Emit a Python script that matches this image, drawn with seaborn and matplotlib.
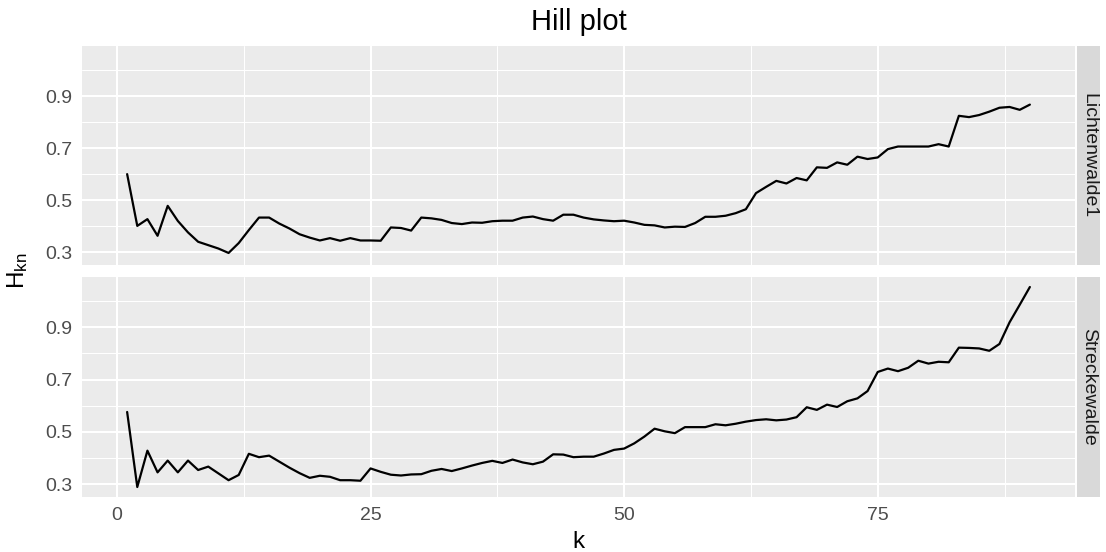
import numpy as np
import pandas as pd
import matplotlib
matplotlib.use("Agg")
import matplotlib.pyplot as plt
import seaborn as sns

# ---- data ----
k_values = list(range(1, 91))
lichtenwalde1 = [
    0.600, 0.401, 0.427, 0.363, 0.478, 0.420, 0.376, 0.340, 0.327, 0.314,
    0.297, 0.335, 0.385, 0.433, 0.433, 0.410, 0.391, 0.369, 0.356, 0.345,
    0.354, 0.344, 0.354, 0.345, 0.345, 0.344, 0.395, 0.393, 0.383, 0.433,
    0.430, 0.424, 0.412, 0.408, 0.414, 0.413, 0.419, 0.421, 0.421, 0.433,
    0.437, 0.427, 0.421, 0.444, 0.444, 0.433, 0.426, 0.422, 0.419, 0.421,
    0.414, 0.405, 0.403, 0.395, 0.398, 0.397, 0.412, 0.436, 0.436, 0.440,
    0.450, 0.465, 0.527, 0.551, 0.574, 0.564, 0.585, 0.576, 0.626, 0.624,
    0.645, 0.636, 0.667, 0.658, 0.664, 0.696, 0.706, 0.706, 0.706, 0.706,
    0.715, 0.706, 0.824, 0.819, 0.827, 0.840, 0.855, 0.858, 0.847, 0.867,
]
streckewalde = [
    0.576, 0.289, 0.428, 0.345, 0.390, 0.345, 0.390, 0.354, 0.367, 0.341,
    0.315, 0.335, 0.416, 0.403, 0.409, 0.386, 0.363, 0.342, 0.324, 0.332,
    0.328, 0.315, 0.315, 0.313, 0.360, 0.347, 0.336, 0.333, 0.337, 0.338,
    0.351, 0.358, 0.350, 0.360, 0.371, 0.381, 0.389, 0.381, 0.394, 0.383,
    0.376, 0.386, 0.414, 0.413, 0.403, 0.405, 0.405, 0.417, 0.431, 0.436,
    0.456, 0.482, 0.512, 0.502, 0.495, 0.518, 0.518, 0.518, 0.529, 0.525,
    0.531, 0.539, 0.545, 0.548, 0.544, 0.547, 0.556, 0.594, 0.584, 0.604,
    0.595, 0.617, 0.628, 0.656, 0.729, 0.742, 0.732, 0.745, 0.772, 0.761,
    0.768, 0.766, 0.822, 0.821, 0.819, 0.810, 0.836, 0.919, 0.986, 1.054,
]
sites = ["Lichtenwalde1", "Streckewalde"]
x_ticks = [0, 25, 50, 75]
y_ticks = [0.3, 0.5, 0.7, 0.9]

df = pd.DataFrame({
    "k": k_values * 2,
    "H": lichtenwalde1 + streckewalde,
    "site": [sites[0]] * len(k_values) + [sites[1]] * len(k_values),
})

# ---- style ----
sns.set_style("white")
plt.rcParams["font.family"] = ["Liberation Sans", "DejaVu Sans"]
plt.rcParams["mathtext.fontset"] = "custom"
plt.rcParams["mathtext.rm"] = "Liberation Sans"
plt.rcParams["mathtext.it"] = "Liberation Sans:italic"

W, H = 1106, 552
fig = plt.figure(figsize=(W / 100, H / 100), dpi=100)

def fx(px):
    return px / W

def fy(py):
    return 1 - py / H

panel_left, panel_right = 82, 1075
panels_y = [(46, 265), (277, 497)]
strip_l, strip_r = 1077, 1100

xmin, xmax = min(k_values), max(k_values)
xr = xmax - xmin
xlim = (xmin - 0.05 * xr, xmax + 0.05 * xr)
allv = lichtenwalde1 + streckewalde
ymin, ymax = min(allv), max(allv)
yr = ymax - ymin
ylim = (ymin - 0.05 * yr, ymax + 0.05 * yr)

major_lw = 1.44
minor_lw = 0.72
tick_fs = 14
for i, site in enumerate(sites):
    top, bot = panels_y[i]
    ax = fig.add_axes([fx(panel_left), fy(bot), fx(panel_right - panel_left), (bot - top) / H])
    ax.set_facecolor("#EBEBEB")
    for s in ax.spines.values():
        s.set_visible(False)
    # grid
    for v in [0.4, 0.6, 0.8, 1.0]:
        ax.axhline(v, color="white", lw=minor_lw, zorder=0.5)
    for v in [12.5, 37.5, 62.5, 87.5]:
        ax.axvline(v, color="white", lw=minor_lw, zorder=0.5)
    for v in y_ticks:
        ax.axhline(v, color="white", lw=major_lw, zorder=0.6)
    for v in x_ticks:
        ax.axvline(v, color="white", lw=major_lw, zorder=0.6)

    sns.lineplot(data=df[df["site"] == site], x="k", y="H", ax=ax,
                 color="black", linewidth=1.6, zorder=3)
    ax.set_xlim(*xlim)
    ax.set_ylim(*ylim)
    ax.set_yticks(y_ticks)
    ax.set_yticklabels([f"{v:.1f}" for v in y_ticks])
    ax.set_xticks(x_ticks)
    ax.set_xlabel("")
    ax.set_ylabel("")
    ax.tick_params(axis="both", length=4.0, width=major_lw, color="#333333",
                   labelcolor="#4D4D4D", labelsize=tick_fs, pad=3.2)
    if i == 0:
        ax.tick_params(axis="x", bottom=False, labelbottom=False)
    # strip
    sax = fig.add_axes([fx(strip_l), fy(bot), fx(strip_r - strip_l), (bot - top) / H])
    sax.set_facecolor("#D9D9D9")
    sax.set_xticks([])
    sax.set_yticks([])
    for s in sax.spines.values():
        s.set_visible(False)
    sax.text(0.5, 0.5, site, rotation=-90, ha="center", va="center",
             fontsize=tick_fs, color="#1A1A1A", transform=sax.transAxes)

cx = fx((panel_left + panel_right) / 2)
fig.text(cx, fy(30), "Hill plot", ha="center", va="baseline", fontsize=21, color="black")
fig.text(cx, fy(548), "k", ha="center", va="baseline", fontsize=17.5, color="black")
fig.text(fx(18), fy(271), r"H$_{\mathrm{kn}}$", ha="center", va="center",
         rotation=90, fontsize=17.5, color="black")

fig.savefig("out.png", dpi=100, facecolor="white")
